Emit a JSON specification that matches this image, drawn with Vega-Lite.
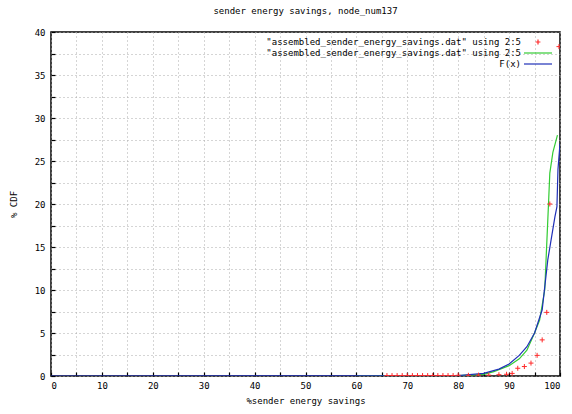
{
  "$schema": "https://vega.github.io/schema/vega-lite/v6.json",
  "width": 509,
  "height": 344,
  "autosize": {"type": "none"},
  "padding": {"left": 51, "top": 32, "right": 12, "bottom": 38},
  "background": "white",
  "title": {"text": "sender energy savings, node_num137", "fontSize": 9, "font": "DejaVu Sans Mono", "fontWeight": "normal", "anchor": "middle", "offset": 12, "color": "#000000"},
  "config": {
    "view": {"stroke": "#000000", "strokeWidth": 1.5},
    "font": "DejaVu Sans Mono",
    "axis": {
      "labelFont": "DejaVu Sans Mono", "labelFontSize": 9, "labelColor": "#000000",
      "titleFont": "DejaVu Sans Mono", "titleFontSize": 9, "titleFontWeight": "normal", "titleColor": "#000000",
      "domain": false, "tickColor": "#000000", "tickSize": -4, "tickWidth": 1.2,
      "gridColor": "#aaaaaa", "gridDash": [1, 3], "gridWidth": 1
    },
    "legend": {"labelFont": "DejaVu Sans Mono", "labelFontSize": 9, "labelColor": "#000000"}
  },
  "data": {"values": [
    {"s": "pts", "x": 66, "y": 0.05}, {"s": "pts", "x": 67, "y": 0.05}, {"s": "pts", "x": 68, "y": 0.05}, {"s": "pts", "x": 69, "y": 0.05}, {"s": "pts", "x": 70, "y": 0.05},
    {"s": "pts", "x": 71, "y": 0.05}, {"s": "pts", "x": 72, "y": 0.05}, {"s": "pts", "x": 73, "y": 0.05}, {"s": "pts", "x": 74, "y": 0.05}, {"s": "pts", "x": 75, "y": 0.05},
    {"s": "pts", "x": 76, "y": 0.05}, {"s": "pts", "x": 77, "y": 0.05}, {"s": "pts", "x": 78, "y": 0.05}, {"s": "pts", "x": 79, "y": 0.05}, {"s": "pts", "x": 80, "y": 0.08},
    {"s": "pts", "x": 82, "y": 0.08}, {"s": "pts", "x": 84, "y": 0.1}, {"s": "pts", "x": 86, "y": 0.1}, {"s": "pts", "x": 88, "y": 0.15}, {"s": "pts", "x": 89.5, "y": 0.2},
    {"s": "pts", "x": 90.6, "y": 0.3}, {"s": "pts", "x": 91.7, "y": 0.9}, {"s": "pts", "x": 93, "y": 1.1}, {"s": "pts", "x": 94.3, "y": 1.5}, {"s": "pts", "x": 95.5, "y": 2.4},
    {"s": "pts", "x": 96.5, "y": 4.2}, {"s": "pts", "x": 97.4, "y": 7.4}, {"s": "pts", "x": 98, "y": 20}, {"s": "pts", "x": 99.8, "y": 38.3},
    {"s": "line", "x": 60, "y": 0}, {"s": "line", "x": 80, "y": 0.05}, {"s": "line", "x": 85, "y": 0.2}, {"s": "line", "x": 87, "y": 0.5}, {"s": "line", "x": 90, "y": 1.2},
    {"s": "line", "x": 92, "y": 2}, {"s": "line", "x": 93.5, "y": 3}, {"s": "line", "x": 95, "y": 5}, {"s": "line", "x": 96, "y": 6.5}, {"s": "line", "x": 97, "y": 10},
    {"s": "line", "x": 97.8, "y": 20.8}, {"s": "line", "x": 98, "y": 23.6}, {"s": "line", "x": 98.6, "y": 26}, {"s": "line", "x": 99.5, "y": 28},
    {"s": "F", "x": 0, "y": 0}, {"s": "F", "x": 70, "y": 0.01}, {"s": "F", "x": 80, "y": 0.05}, {"s": "F", "x": 85, "y": 0.3}, {"s": "F", "x": 88, "y": 0.8},
    {"s": "F", "x": 90, "y": 1.4}, {"s": "F", "x": 92, "y": 2.4}, {"s": "F", "x": 93.5, "y": 3.4}, {"s": "F", "x": 95, "y": 5}, {"s": "F", "x": 96.5, "y": 7.7},
    {"s": "F", "x": 97.6, "y": 13.5}, {"s": "F", "x": 99, "y": 18.5}, {"s": "F", "x": 99.4, "y": 19.7}, {"s": "F", "x": 99.6, "y": 24}, {"s": "F", "x": 100, "y": 27}
  ]},
  "encoding": {
    "x": {"field": "x", "type": "quantitative", "scale": {"domain": [0, 100], "nice": false},
      "axis": {"title": "%sender energy savings", "values": [0,5,10,15,20,25,30,35,40,45,50,55,60,65,70,75,80,85,90,95,100],
        "labelExpr": "datum.value % 10 === 0 ? datum.label : ''", "labelPadding": 9, "titlePadding": 6}},
    "y": {"field": "y", "type": "quantitative", "scale": {"domain": [0, 40], "nice": false},
      "axis": {"title": "% CDF", "values": [0,2.5,5,7.5,10,12.5,15,17.5,20,22.5,25,27.5,30,32.5,35,37.5,40],
        "labelExpr": "datum.value % 5 === 0 ? datum.label : ''", "labelPadding": 10, "titlePadding": 16}},
    "color": {"field": "s", "type": "nominal",
      "scale": {"domain": ["pts", "line", "F"], "range": ["#ff2a2a", "#33cc33", "#1f2fb8"]},
      "legend": {"orient": "top-right", "title": null, "offset": 3, "padding": 2, "labelLimit": 500,
        "labelExpr": "datum.value == 'F' ? 'F(x)' : '\"assembled_sender_energy_savings.dat\" using 2:5'",
        "symbolType": "M-3.5,0H3.5", "symbolSize": 64, "symbolStrokeWidth": 1.2, "rowPadding": 1,
        "labelAlign": "right", "labelOffset": -22,
        "encode": {"symbols": {"update": {
          "shape": {"signal": "datum.value == 'pts' ? 'M-0.6,0H0.6M0,-0.6V0.6' : 'M-3.5,0H3.5'"}}}}}}
  },
  "layer": [
    {"mark": {"type": "line", "strokeWidth": 1.2, "clip": true}, "transform": [{"filter": "datum.s == 'line'"}]},
    {"mark": {"type": "line", "strokeWidth": 1.2, "clip": true}, "transform": [{"filter": "datum.s == 'F'"}]},
    {"mark": {"type": "point", "shape": "M-1,0H1M0,-1V1", "filled": false, "size": 25, "strokeWidth": 1, "opacity": 1, "clip": true}, "transform": [{"filter": "datum.s == 'pts'"}]}
  ]
}
